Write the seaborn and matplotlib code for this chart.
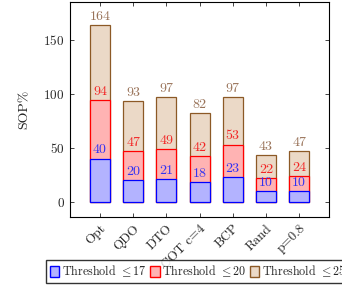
import pandas as pd
import seaborn as sns
import matplotlib.pyplot as plt
from matplotlib.patches import Patch

sns.set_theme(style="white")
plt.rcParams['font.family'] = ['cmr10', 'DejaVu Serif']
plt.rcParams['mathtext.fontset'] = 'cm'
plt.rcParams['axes.formatter.use_mathtext'] = True

methods = ["Opt", "QDO", "DTO", "COT c=4", "BCP", "Rand", "p=0.8"]
thr17 = [40, 20, 21, 18, 23, 10, 10]
thr20 = [94, 47, 49, 42, 53, 22, 24]
thr25 = [164, 93, 97, 82, 97, 43, 47]

series = [
    (thr25, (0.92, 0.85, 0.78), (0.55, 0.35, 0.15), (0.6, 0.45, 0.35), r"Threshold $\leq 25$"),
    (thr20, (1.0, 0.7, 0.7), (1.0, 0.0, 0.0), (0.95, 0.15, 0.15), r"Threshold $\leq 20$"),
    (thr17, (0.7, 0.7, 1.0), (0.0, 0.0, 1.0), (0.2, 0.2, 0.95), r"Threshold $\leq 17$"),
]

fig = plt.figure(figsize=(3.42, 2.85), dpi=100)
ax = fig.add_axes([0.205, 0.239, 0.757, 0.754])

for vals, fc, ec, tc, lab in series:
    df = pd.DataFrame({"method": methods, "v": vals})
    sns.barplot(data=df, x="method", y="v", color=fc, width=0.6, saturation=1,
                edgecolor=ec, linewidth=0.9, ax=ax)
    for i, v in enumerate(vals):
        ax.text(i, v + 2, str(v), ha="center", va="bottom", color=tc, fontsize=10)

ax.set_xlim(-0.9, 6.9)
ax.set_ylim(-14, 185)
ax.set_yticks([0, 50, 100, 150])
ax.set_xlabel("")
ax.set_ylabel("SOP%", fontsize=10, labelpad=9)
ax.tick_params(direction="in", top=True, right=True, length=3, width=0.6,
               labelsize=9.5, pad=4)
ax.tick_params(axis="x", bottom=True)
ax.tick_params(axis="y", left=True)
plt.setp(ax.get_xticklabels(), rotation=45, ha="right", rotation_mode="anchor")
for s in ax.spines.values():
    s.set_color("black")
    s.set_linewidth(0.8)

handles = [Patch(facecolor=fc, edgecolor=ec, label=lab) for _, fc, ec, _, lab in series[::-1]]
fig.legend(handles=handles, loc="lower left", bbox_to_anchor=(46 / 342, 2 / 285),
           ncol=3, fontsize=8.7, frameon=True, fancybox=False, edgecolor="black",
           handlelength=0.8, handleheight=1.0, handletextpad=0.2, columnspacing=0.3,
           borderpad=0.3, borderaxespad=0)

fig.savefig("out.png", dpi=100)
